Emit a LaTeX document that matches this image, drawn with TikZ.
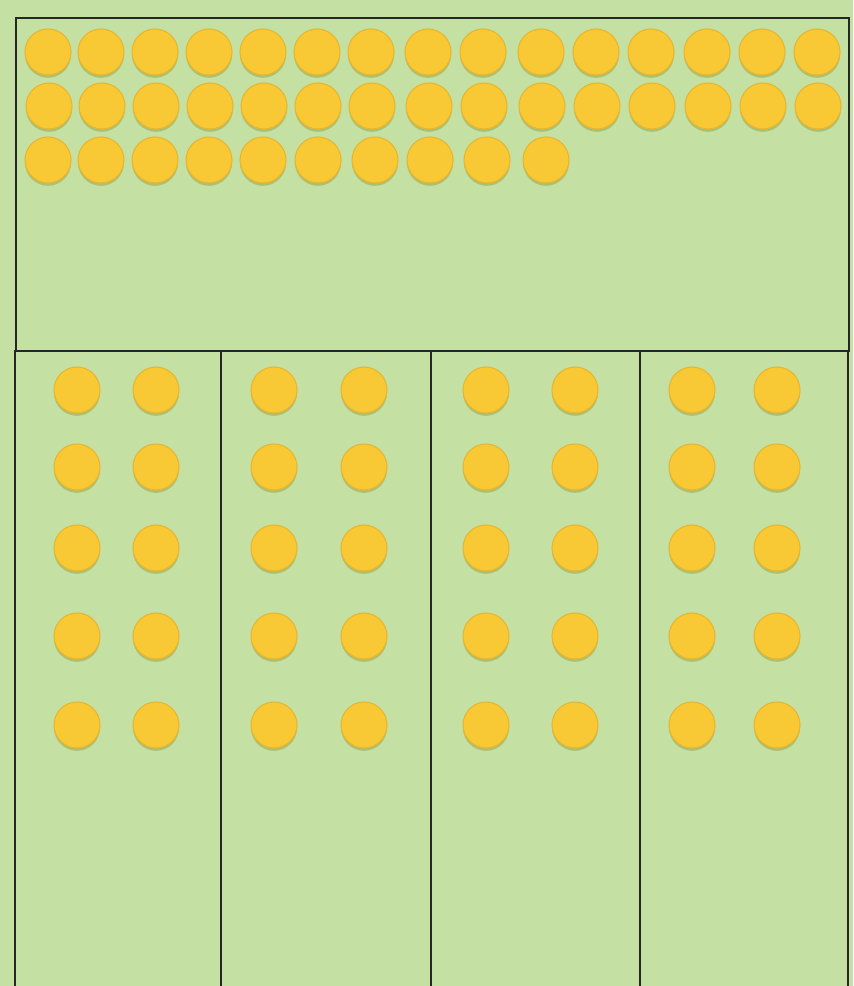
\documentclass[tikz,border=0pt]{standalone}
\usepackage{xcolor}
\usepackage{tikz}
\usetikzlibrary{shadows}
\definecolor{boardgreen}{HTML}{C4E0A2}
\definecolor{counteryellow}{HTML}{F9C935}
\definecolor{counteredge}{HTML}{E8B52C}
\definecolor{countershade}{HTML}{8E9A3C}

\begin{document}
\begin{tikzpicture}[x=0.02cm, y=-0.02cm,
    counter/.style={circle, inner sep=0pt, minimum size=0.92cm,
                    fill=counteryellow, draw=counteredge, line width=0.6pt,
                    drop shadow={shadow xshift=0pt, shadow yshift=-1.6pt,
                                 fill=countershade, opacity=0.45}},
    frame/.style={draw=black!85, line width=1.4pt}]
  \fill[boardgreen] (0,0) rectangle (853,986);
  \useasboundingbox (0,0) rectangle (853,986);

  % top tray: 40 counters
  \node[frame, rectangle, inner sep=0pt, minimum width=833*0.02cm,
        minimum height=333*0.02cm, anchor=north west] (tray) at (15,17) {};
  \foreach \x [count=\i] in {48,101,155,209,263,317,371,428,483,541,596,651,707,762,817}{
    \node[counter] (top-1-\i) at (\x,52) {};
    \node[counter] (top-2-\i) at (\x+1,106) {};
  }
  \foreach \x [count=\i] in {48,101,155,209,263,318,375,430,487,546}
    \node[counter] (top-3-\i) at (\x,160) {};

  % four shares below
  \coordinate (share-0) at (15,350);
  \coordinate (share-1) at (221,350);
  \coordinate (share-2) at (431,350);
  \coordinate (share-3) at (640,350);
  \coordinate (share-4) at (848,350);
  \foreach \k in {0,...,4}
    \draw[frame] (share-\k) -- ++(0,640);

  \foreach \a/\b [count=\c] in {77/156, 274/364, 486/575, 692/777}{
    \foreach \y [count=\r] in {390,467,548,636,725}{
      \node[counter] (share-\c-\r-a) at (\a,\y) {};
      \node[counter] (share-\c-\r-b) at (\b,\y) {};
    }
  }
\end{tikzpicture}
\end{document}
